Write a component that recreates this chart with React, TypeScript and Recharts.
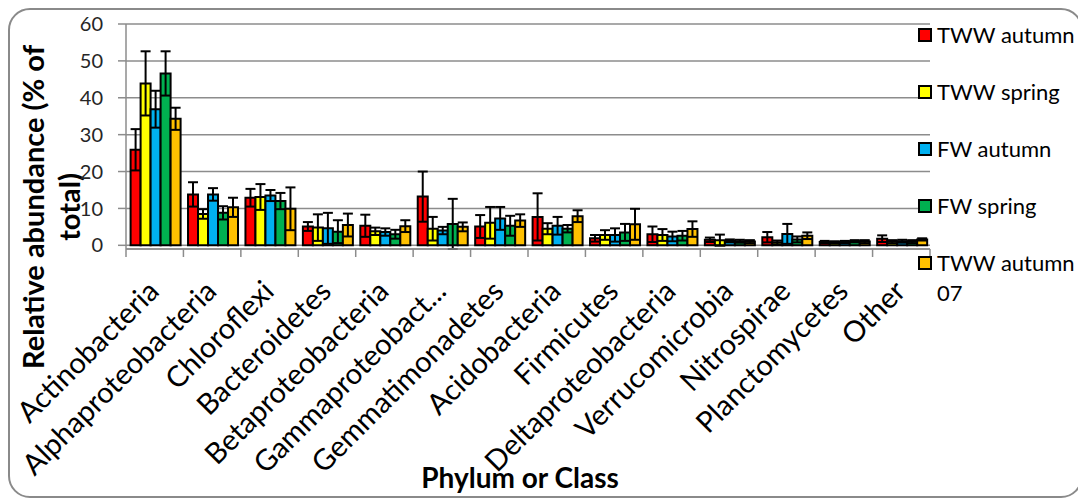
import React from 'react';
import { BarChart, Bar, XAxis, YAxis, CartesianGrid, ErrorBar, Legend } from 'recharts';

const categories = [
  'Actinobacteria',
  'Alphaproteobacteria',
  'Chloroflexi',
  'Bacteroidetes',
  'Betaproteobacteria',
  'Gammaproteobact...',
  'Gemmatimonadetes',
  'Acidobacteria',
  'Firmicutes',
  'Deltaproteobacteria',
  'Verrucomicrobia',
  'Nitrospirae',
  'Planctomycetes',
  'Other',
];

const twwAutumn = [25.9, 13.8, 12.9, 5.1, 5.3, 13.2, 5.1, 7.7, 1.9, 3.0, 1.5, 2.2, 0.9, 1.8];
const twwAutumnErr = [5.6, 3.3, 2.4, 1.2, 3.0, 6.8, 3.1, 6.4, 0.9, 2.1, 0.6, 1.4, 0.3, 0.9];
const twwSpring = [43.9, 8.5, 13.1, 4.8, 3.8, 4.5, 6.1, 4.5, 2.8, 2.8, 1.4, 0.8, 0.8, 1.0];
const twwSpringErr = [8.7, 1.3, 3.5, 3.6, 1.0, 3.2, 4.3, 1.5, 1.3, 1.6, 1.5, 0.5, 0.3, 0.4];
const fwAutumn = [36.9, 13.8, 13.5, 4.6, 3.6, 4.0, 7.3, 5.3, 2.8, 2.4, 1.2, 3.1, 0.9, 1.1];
const fwAutumnErr = [5.0, 1.7, 1.5, 4.2, 1.0, 1.0, 3.1, 2.4, 1.8, 1.3, 0.4, 2.7, 0.3, 0.4];
const fwSpring = [46.6, 8.8, 12.0, 3.7, 3.0, 5.8, 5.3, 4.5, 3.5, 2.6, 1.1, 1.6, 1.1, 1.0];
const fwSpringErr = [6.0, 1.8, 2.2, 3.1, 1.2, 6.8, 2.7, 1.0, 2.3, 1.3, 0.4, 0.8, 0.3, 0.4];
const twwAutumn07 = [34.3, 10.3, 9.9, 5.5, 5.2, 5.0, 6.7, 7.9, 5.7, 4.4, 1.0, 2.6, 1.0, 1.6];
const twwAutumn07Err = [3.0, 2.6, 5.8, 3.1, 1.6, 1.2, 1.7, 1.6, 4.2, 2.1, 0.4, 0.9, 0.4, 0.3];

const yTicks = [0, 10, 20, 30, 40, 50, 60];

const seriesNames = ['TWW autumn', 'TWW spring', 'FW autumn', 'FW spring', 'TWW autumn 07'];
const seriesKeys = ['twwA', 'twwS', 'fwA', 'fwS', 'twwA07'];
const seriesColors = ['#FF0000', '#FFFF00', '#00B0F0', '#00B050', '#FFC000'];

const data = categories.map((name, i) => ({
  name,
  twwA: twwAutumn[i],
  twwAErr: twwAutumnErr[i],
  twwS: twwSpring[i],
  twwSErr: twwSpringErr[i],
  fwA: fwAutumn[i],
  fwAErr: fwAutumnErr[i],
  fwS: fwSpring[i],
  fwSErr: fwSpringErr[i],
  twwA07: twwAutumn07[i],
  twwA07Err: twwAutumn07Err[i],
}));

const FONT = 'Lato, "Open Sans", sans-serif';
const GRID = '#8c8c8c';
const OUTER_W = 1075;
const OUTER_H = 490;
const CHART_W = OUTER_W - 4;
const CHART_H = OUTER_H - 4;
const PLOT_LEFT = 116;
const PLOT_RIGHT = 920;
const PLOT_TOP = 14;
const PLOT_BOTTOM = 239;
const BAND = (PLOT_RIGHT - PLOT_LEFT) / categories.length;

const XTick = (props: any) => {
  const { x, y, payload, index } = props;
  const tx = x + 6;
  const ty = y + 44;
  return (
    <g>
      <line x1={x - BAND / 2} x2={x - BAND / 2} y1={y} y2={y + 8} stroke={GRID} strokeWidth={1.5} />
      {index === categories.length - 1 && (
        <line x1={x + BAND / 2} x2={x + BAND / 2} y1={y} y2={y + 8} stroke={GRID} strokeWidth={1.5} />
      )}
      <text
        x={tx}
        y={ty}
        transform={`rotate(-45, ${tx}, ${ty})`}
        textAnchor="end"
        fontFamily={FONT}
        fontSize={29}
        fill="#000"
      >
        {payload.value}
      </text>
    </g>
  );
};

const YLabel = () => (
  <g transform="translate(34, 197) rotate(-90)">
    <text textAnchor="middle" fontFamily={FONT} fontWeight="bold" fontSize={29} fill="#000">
      <tspan x={0} dy={0}>Relative abundance (% of</tspan>
      <tspan x={0} dy={36}>total)</tspan>
    </text>
  </g>
);

const XTitle = (props: any) => {
  const { viewBox } = props;
  const cx = viewBox.x + viewBox.width / 2 - 8;
  const by = viewBox.y + viewBox.height - 8;
  return (
    <text x={cx} y={by} textAnchor="middle" fontFamily={FONT} fontWeight="bold" fontSize={28} fill="#000">
      Phylum or Class
    </text>
  );
};

const LegendContent = () => (
  <div style={{ fontFamily: FONT, fontSize: 22, color: '#000' }}>
    {seriesNames.map((n, i) => (
      <div key={n} style={{ display: 'flex', alignItems: 'flex-start', height: 57, lineHeight: '30px' }}>
        <div
          style={{
            width: 10,
            height: 10,
            marginTop: 8,
            background: seriesColors[i],
            border: '2px solid #000',
            flexShrink: 0,
          }}
        />
        <div style={{ width: 142, marginLeft: 5, whiteSpace: 'normal' }}>{n}</div>
      </div>
    ))}
  </div>
);

export default function App() {
  return (
    <div
      style={{
        position: 'relative',
        width: OUTER_W,
        height: OUTER_H,
        boxSizing: 'border-box',
        border: '2px solid #8a8a8a',
        borderRadius: 22,
        background: '#fff',
      }}
    >
      <BarChart
        width={CHART_W}
        height={CHART_H}
        data={data}
        margin={{ top: PLOT_TOP, right: CHART_W - PLOT_RIGHT, left: 0, bottom: 0 }}
        barCategoryGap="8%"
        barGap={0}
      >
        <CartesianGrid vertical={false} stroke={GRID} strokeWidth={1.5} />
        <XAxis
          dataKey="name"
          interval={0}
          height={CHART_H - PLOT_BOTTOM}
          tickSize={0}
          tickMargin={0}
          tickLine={false}
          axisLine={{ stroke: GRID, strokeWidth: 1.5 }}
          tick={<XTick />}
          label={{ content: <XTitle /> }}
        />
        <YAxis
          width={PLOT_LEFT}
          domain={[0, 60]}
          ticks={yTicks}
          interval={0}
          tickSize={8}
          tickMargin={15}
          tickLine={{ stroke: GRID, strokeWidth: 1.5 }}
          axisLine={{ stroke: GRID, strokeWidth: 1.5 }}
          tick={{ fontFamily: FONT, fontSize: 20, fill: '#262626' }}
          label={{ content: <YLabel /> }}
        />
        <Legend
          layout="vertical"
          align="center"
          verticalAlign="middle"
          content={<LegendContent />}
          wrapperStyle={{ position: 'absolute', left: 908, top: 10, width: 160 }}
        />
        {seriesKeys.map((k, i) => (
          <Bar
            key={k}
            dataKey={k}
            name={seriesNames[i]}
            fill={seriesColors[i]}
            stroke="#000"
            strokeWidth={2}
            isAnimationActive={false}
          >
            <ErrorBar dataKey={`${k}Err`} width={5} stroke="#000" strokeWidth={2} direction="y" />
          </Bar>
        ))}
      </BarChart>
    </div>
  );
}
